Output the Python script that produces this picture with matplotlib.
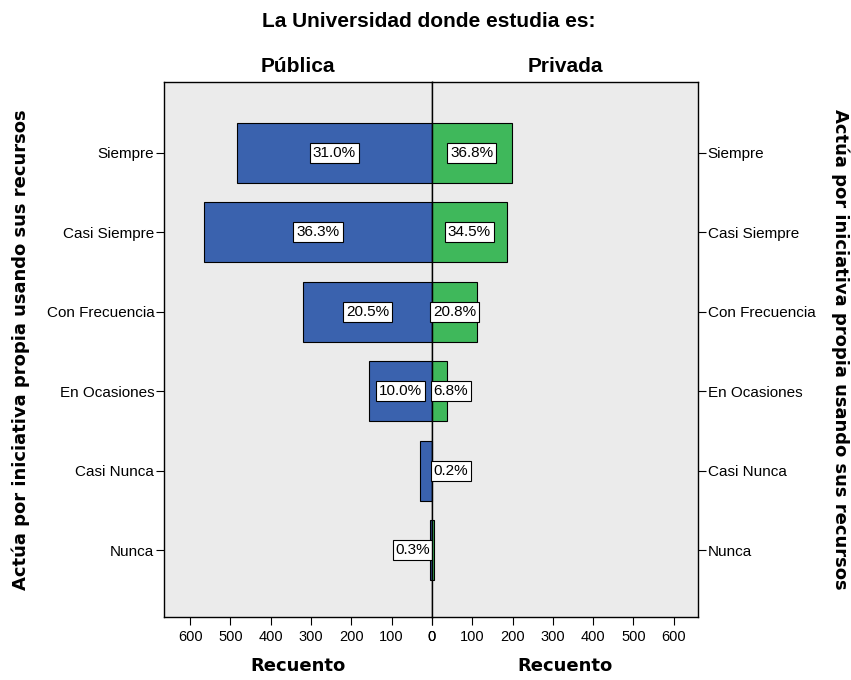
import matplotlib.pyplot as plt
from matplotlib import font_manager

categorias = ["Siempre", "Casi Siempre", "Con Frecuencia", "En Ocasiones", "Casi Nunca", "Nunca"]
publica = [484, 566, 319, 156, 30, 5]
privada = [198, 186, 112, 37, 1, 5]
etiquetas_publica = ["31.0%", "36.3%", "20.5%", "10.0%", None, "0.3%"]
etiquetas_privada = ["36.8%", "34.5%", "20.8%", "6.8%", "0.2%", None]
ticks_x = [0, 100, 200, 300, 400, 500, 600]

AZUL = "#3A62AE"
VERDE = "#3FB85B"
FONDO = "#EBEBEB"

names = {f.name for f in font_manager.fontManager.ttflist}
narrow = "Liberation Sans Narrow" if "Liberation Sans Narrow" in names else "Liberation Sans"
plt.rcParams['font.family'] = ['Liberation Sans', 'DejaVu Sans']

fig = plt.figure(figsize=(8.51, 6.8), dpi=100)
ax1 = fig.add_axes([0.1927, 0.0926, 0.3149, 0.7868])
ax2 = fig.add_axes([0.5076, 0.0926, 0.3126, 0.7868], sharey=ax1)

pos = list(range(len(categorias)))
box = dict(boxstyle="square,pad=0.2", fc="white", ec="black", lw=0.8)

for ax in (ax1, ax2):
    ax.set_facecolor(FONDO)
    ax.set_xticks(ticks_x)
    ax.set_xticklabels([str(t) for t in ticks_x], fontsize=10.5)
    ax.tick_params(axis='x', length=6, direction='out')
    for s in ax.spines.values():
        s.set_linewidth(1.0)

ax1.barh(pos, publica, height=0.76, color=AZUL, edgecolor="black", linewidth=0.8)
ax2.barh(pos, privada, height=0.76, color=VERDE, edgecolor="black", linewidth=0.8)
ax1.set_xlim(665, 0)
ax2.set_xlim(0, 660)
ax1.set_ylim(5.84, -0.89)

# Etiquetas de porcentaje
for i, (v, t) in enumerate(zip(publica, etiquetas_publica)):
    if t is None:
        continue
    if v > 60:
        ax1.text(v / 2, i, t, ha="center", va="center", fontsize=11, bbox=box)
    else:
        ax1.text(4, i, t, ha="right", va="center", fontsize=11, bbox=box)
for i, (v, t) in enumerate(zip(privada, etiquetas_privada)):
    if t is None:
        continue
    if v > 100:
        ax2.text(v / 2, i, t, ha="center", va="center", fontsize=11, bbox=box)
    else:
        ax2.text(4, i, t, ha="left", va="center", fontsize=11, bbox=box)

ax1.set_yticks(pos)
ax1.set_yticklabels(categorias, fontsize=11)
ax1.tick_params(axis='y', length=6, direction='out', pad=1)
ax2.tick_params(axis='y', left=False, labelleft=False, right=True, labelright=True,
                length=6, direction='out', pad=1, labelsize=11)

ax1.set_xlabel("Recuento", fontsize=13, fontweight="bold", family="DejaVu Sans", labelpad=9)
ax2.set_xlabel("Recuento", fontsize=13, fontweight="bold", family="DejaVu Sans", labelpad=9)
ax1.set_ylabel("Actúa por iniciativa propia usando sus recursos", fontsize=13,
               fontweight="bold", family="DejaVu Sans", labelpad=12)
fig.text(0.987, 0.486, "Actúa por iniciativa propia usando sus recursos", fontsize=13,
         fontweight="bold", family="DejaVu Sans", rotation=270, ha="center", va="center")

ax1.set_title("Pública", fontsize=15, fontweight="bold", family=narrow, pad=7)
ax2.set_title("Privada", fontsize=15, fontweight="bold", family=narrow, pad=7)
fig.text(0.504, 0.968, "La Universidad donde estudia es:", ha="center", va="center",
         fontsize=15, fontweight="bold", family=narrow)

fig.savefig("out.png", dpi=100)
